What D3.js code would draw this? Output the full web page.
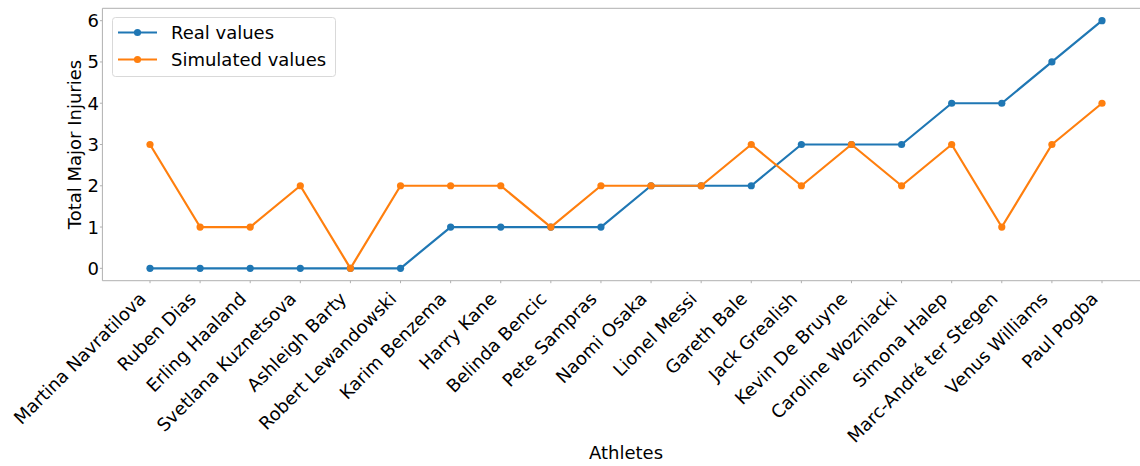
<!DOCTYPE html>
<html><head><meta charset="utf-8">
<script src="https://cdn.jsdelivr.net/npm/d3@7"></script>
<style>body{margin:0;background:#fff}svg{display:block}text{font-family:"DejaVu Sans",sans-serif;fill:#000}</style>
</head><body>
<svg id="c" width="1140" height="466"></svg>
<script>
const athletes = ["Martina Navratilova","Ruben Dias","Erling Haaland","Svetlana Kuznetsova","Ashleigh Barty","Robert Lewandowski","Karim Benzema","Harry Kane","Belinda Bencic","Pete Sampras","Naomi Osaka","Lionel Messi","Gareth Bale","Jack Grealish","Kevin De Bruyne","Caroline Wozniacki","Simona Halep","Marc-André ter Stegen","Venus Williams","Paul Pogba"];
const realValues = [0,0,0,0,0,0,1,1,1,1,2,2,2,3,3,3,4,4,5,6];
const simulatedValues = [3,1,1,2,0,2,2,2,1,2,2,2,3,2,3,2,3,1,3,4];
const yTicks = [0,1,2,3,4,5,6];
const seriesNames = ["Real values","Simulated values"];
const colors = ["#1f77b4","#ff7f0e"];

const svg = d3.select("#c");
const L = 102.4, R = 1149.6, T = 8.3, B = 280.7;
const n = athletes.length;
const xi = d3.scaleLinear().domain([-0.95, n - 1 + 0.95]).range([L, R]);
const y = d3.scaleLinear().domain([-0.3, 6.3]).range([B, T]);

// spines
const g = svg.append("g");
g.append("line").attr("x1",L).attr("x2",R).attr("y1",T).attr("y2",T).attr("stroke","#b0b0b0");
g.append("line").attr("x1",L).attr("x2",R).attr("y1",B).attr("y2",B).attr("stroke","#b0b0b0");
g.append("line").attr("x1",L).attr("x2",L).attr("y1",T).attr("y2",B).attr("stroke","#b0b0b0");

// y axis ticks
yTicks.forEach(t => {
  g.append("line").attr("x1",L-2.5).attr("x2",L).attr("y1",y(t)).attr("y2",y(t)).attr("stroke","#b0b0b0");
  g.append("text").attr("x",99).attr("y",y(t)).attr("dy","0.36em").attr("text-anchor","end")
    .style("font-size","18px").text(t);
});
// x axis ticks
athletes.forEach((a,i) => {
  const x = xi(i);
  g.append("line").attr("x1",x).attr("x2",x).attr("y1",B).attr("y2",B+2.5).attr("stroke","#b0b0b0");
  g.append("text").attr("text-anchor","end").style("font-size","18px")
    .attr("transform",`translate(${x-3},${300}) rotate(-45)`).text(a);
});

svg.append("text").attr("x",(L+R)/2).attr("y",459).attr("text-anchor","middle").style("font-size","18px").text("Athletes");
svg.append("text").attr("transform",`translate(81,${(T+B)/2}) rotate(-90)`).attr("text-anchor","middle").style("font-size","18px").text("Total Major Injuries");

const line = d3.line().x((d,i)=>xi(i)).y(d=>y(d));
[realValues, simulatedValues].forEach((vals, k) => {
  svg.append("path").datum(vals).attr("d", line).attr("fill","none")
    .attr("stroke", colors[k]).attr("stroke-width",2.2).attr("stroke-linejoin","round");
  svg.selectAll(null).data(vals).enter().append("circle")
    .attr("cx",(d,i)=>xi(i)).attr("cy",d=>y(d)).attr("r",3.6).attr("fill",colors[k]);
});

// legend
const lg = svg.append("g");
lg.append("rect").attr("x",112.5).attr("y",17.5).attr("width",223).attr("height",59).attr("rx",3)
  .attr("fill","#fff").attr("fill-opacity",0.8).attr("stroke","#d9d9d9");
seriesNames.forEach((s,k) => {
  const yy = 32.5 + k*27;
  lg.append("line").attr("x1",118).attr("x2",157).attr("y1",yy).attr("y2",yy).attr("stroke",colors[k]).attr("stroke-width",2.2);
  lg.append("circle").attr("cx",137.5).attr("cy",yy).attr("r",3.6).attr("fill",colors[k]);
  lg.append("text").attr("x",171).attr("y",yy).attr("dy","0.36em").style("font-size","18px").text(s);
});
</script>
</body></html>
